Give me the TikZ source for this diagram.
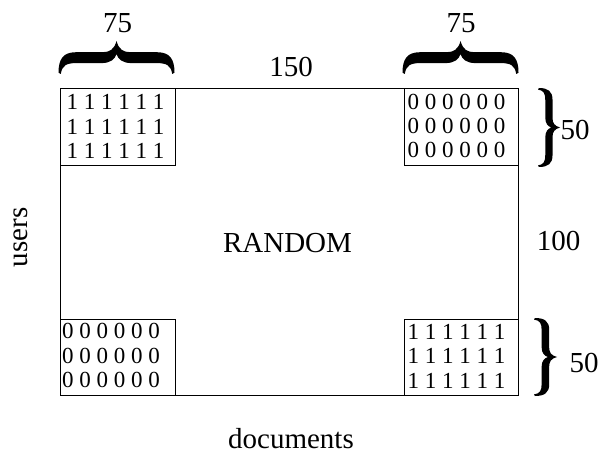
\documentclass[tikz,border=0pt]{standalone}
\usepackage{fontspec}
\setmainfont{Liberation Serif}
\tikzset{
  lbl/.style={anchor=base, inner sep=0pt, font=\fontsize{29}{34}\selectfont},
  cell/.style={draw, line width=0.8pt},
  bits/.style={anchor=base west, inner sep=0pt, align=left,
    font=\fontsize{23}{24.4}\selectfont}
}
% A curly brace in unit coordinates: base at u=0, tip at u=1, v from -1 to 1
\newcommand\unitbrace{%
  \fill (1,0) .. controls (0.74,0.04) and (0.66,0.12) .. (0.66,0.24)
    -- (0.66,0.70)
    .. controls (0.66,0.92) and (0.45,1) .. (0.04,1)
    -- (0.0,0.96)
    .. controls (0.26,0.94) and (0.33,0.86) .. (0.33,0.70)
    -- (0.33,0.26)
    .. controls (0.33,0.10) and (0.45,0.03) .. (0.60,0)
    .. controls (0.45,-0.03) and (0.33,-0.10) .. (0.33,-0.26)
    -- (0.33,-0.70)
    .. controls (0.33,-0.86) and (0.26,-0.94) .. (0.0,-0.96)
    -- (0.04,-1)
    .. controls (0.45,-1) and (0.66,-0.92) .. (0.66,-0.70)
    -- (0.66,-0.24)
    .. controls (0.66,-0.12) and (0.74,-0.04) .. (1,0) -- cycle;}
\begin{document}
\begin{tikzpicture}[x=1pt, y=-1pt]
\useasboundingbox (0,0) rectangle (601,454);

% whole matrix and its corner blocks
\draw[cell] (60.5,88.5) rectangle (518.5,395.5);
\draw[cell] (60.5,88.5) rectangle (175,165);
\draw[cell] (404,88.5) rectangle (518.5,165);
\draw[cell] (60.5,319) rectangle (175,395.5);
\draw[cell] (404,319) rectangle (518.5,395.5);

% block contents (anchored at the baseline of the last row)
\node[bits] (tl) at (66.5,158.5) {1 1 1 1 1 1\\1 1 1 1 1 1\\1 1 1 1 1 1};
\node[bits] (tr) at (407.5,158) {0 0 0 0 0 0\\0 0 0 0 0 0\\0 0 0 0 0 0};
\node[bits] (bl) at (62,387.5) {0 0 0 0 0 0\\0 0 0 0 0 0\\0 0 0 0 0 0};
\node[bits] (br) at (407.5,388) {1 1 1 1 1 1\\1 1 1 1 1 1\\1 1 1 1 1 1};

% labels
\node[lbl] (w1) at (117.5,33) {75};
\node[lbl] (w2) at (461,33) {75};
\node[lbl] (wd) at (291,77) {150};
\node[lbl] (ht) at (558.5,250) {100};
\node[lbl] (h1) at (575,140) {50};
\node[lbl] (h2) at (584,372) {50};
\node[lbl] (rnd) at (287.5,252) {RANDOM};
\node[lbl] (doc) at (291,448) {documents};
\node[lbl, rotate=90] (usr) at (27,237.5) {users};

% horizontal braces over the top blocks
\begin{scope}[shift={(116.5,74)}, rotate=90, xscale=33, yscale=58]
  \unitbrace
\end{scope}
\begin{scope}[shift={(460.5,74)}, rotate=90, xscale=33, yscale=58]
  \unitbrace
\end{scope}
% vertical braces beside the right blocks
\begin{scope}[shift={(538,127.5)}, xscale=22, yscale=39.5]
  \unitbrace
\end{scope}
\begin{scope}[shift={(534,357)}, xscale=23, yscale=39]
  \unitbrace
\end{scope}
\end{tikzpicture}
\end{document}
